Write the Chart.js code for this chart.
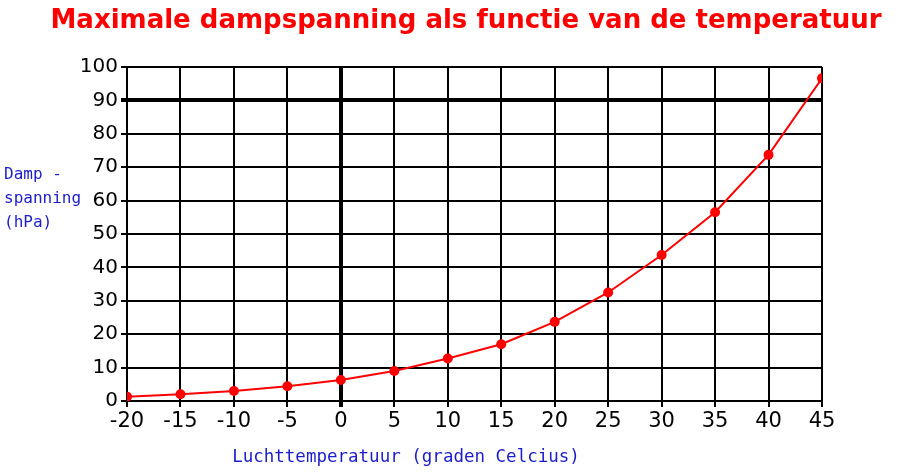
<!DOCTYPE html>
<html>
<head>
<meta charset="utf-8">
<script src="https://cdn.jsdelivr.net/npm/chart.js@4"></script>
<style>
  body { margin: 0; background: #fff; }
  #wrap { width: 916px; height: 473px; position: relative; }
</style>
</head>
<body>
<div id="wrap"><canvas id="grafiek"></canvas></div>
<script>
// Gegevens uit de grafiek
const temperaturen = [-20, -15, -10, -5, 0, 5, 10, 15, 20, 25, 30, 35, 40, 45];
const dampspanning = [1.3, 2.0, 3.0, 4.4, 6.3, 9.0, 12.7, 17.0, 23.7, 32.5, 43.7, 56.5, 73.7, 96.6];
const titel = 'Maximale dampspanning als functie van de temperatuur';
const titelX = 'Luchttemperatuur (graden Celcius)';
const titelY = ['Damp -', 'spanning', '(hPa)'];

const punten = temperaturen.map((t, i) => ({ x: t, y: dampspanning[i] }));

// Achtergrond, titel en as-titels
const teksten = {
    id: 'teksten',
    beforeDraw(chart) {
        const ctx = chart.ctx;
        ctx.save();
        ctx.fillStyle = '#ffffff';
        ctx.fillRect(0, 0, chart.width, chart.height);
        ctx.restore();
    },
    afterDraw(chart) {
        const ctx = chart.ctx;
        ctx.save();
        ctx.textBaseline = 'middle';
        ctx.textAlign = 'center';
        ctx.fillStyle = '#ff0000';
        ctx.font = 'bold 26px "DejaVu Sans"';
        ctx.fillText(titel, 466, 21);

        ctx.fillStyle = '#1c1ccc';
        ctx.font = '16px "DejaVu Sans Mono"';
        ctx.textAlign = 'left';
        titelY.forEach((regel, i) => ctx.fillText(regel, 4, 175 + i * 24));
        ctx.font = '17.5px "DejaVu Sans Mono"';
        ctx.textAlign = 'center';
        ctx.fillText(titelX, 406, 457);
        ctx.restore();
    }
};

new Chart(document.getElementById('grafiek'), {
    type: 'line',
    data: {
        datasets: [{
            data: punten,
            borderColor: '#ff0000',
            backgroundColor: '#ff0000',
            borderWidth: 2,
            pointRadius: 5,
            pointBorderWidth: 0,
            tension: 0
        }]
    },
    options: {
        responsive: true,
        maintainAspectRatio: false,
        animation: false,
        layout: { padding: { left: 0, right: 94, top: 67, bottom: 0 } },
        plugins: {
            legend: { display: false },
            tooltip: { enabled: false },
            title: { display: false }
        },
        scales: {
            x: {
                type: 'linear',
                min: -20,
                max: 45,
                afterFit(scale) { scale.height = 72; },
                ticks: {
                    stepSize: 5,
                    color: '#000',
                    padding: 2,
                    font: { family: 'DejaVu Sans', size: 21 }
                },
                grid: {
                    color: '#000',
                    lineWidth: c => c.tick && c.tick.value === 0 ? 4 : 2,
                    tickLength: 6
                },
                border: { color: '#000', width: 2 }
            },
            y: {
                min: 0,
                max: 100,
                afterFit(scale) { scale.width = 127; },
                ticks: {
                    stepSize: 10,
                    color: '#000',
                    padding: 3,
                    font: { family: 'DejaVu Sans', size: 20 }
                },
                grid: {
                    color: '#000',
                    lineWidth: c => c.tick && c.tick.value === 90 ? 4 : 2,
                    tickLength: 6
                },
                border: { color: '#000', width: 2 }
            }
        }
    },
    plugins: [teksten]
});
</script>
</body>
</html>
